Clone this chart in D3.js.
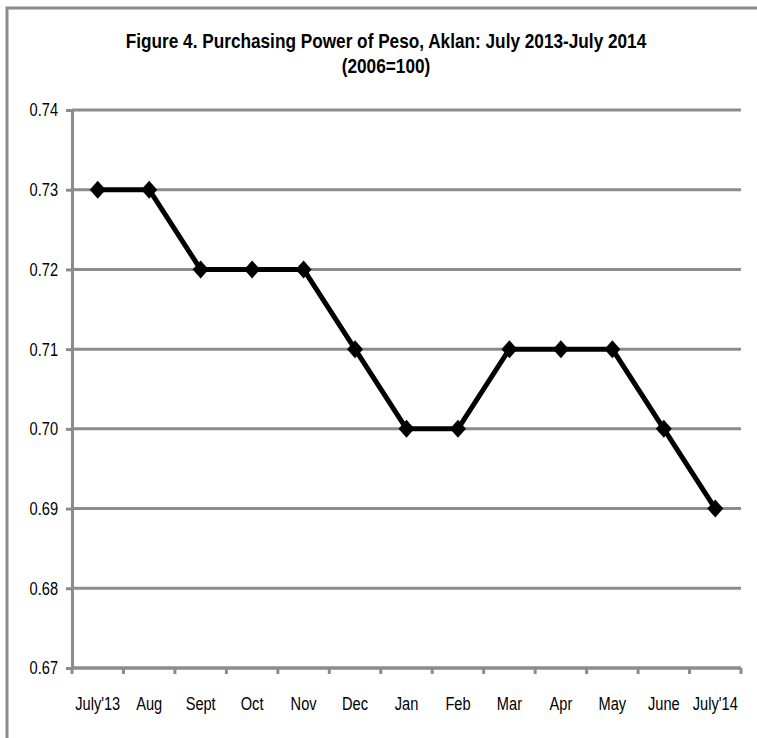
<!DOCTYPE html>
<html>
<head>
<meta charset="utf-8">
<script src="https://cdn.jsdelivr.net/npm/d3@7"></script>
<style>
  body { margin: 0; background: #fff; }
  text { font-family: "Liberation Sans", Arial, sans-serif; fill: #000; }
</style>
</head>
<body>
<div id="chart"></div>
<script>
// data
var months = ["July'13", "Aug", "Sept", "Oct", "Nov", "Dec", "Jan", "Feb", "Mar", "Apr", "May", "June", "July'14"];
var peso_values = [0.73, 0.73, 0.72, 0.72, 0.72, 0.71, 0.70, 0.70, 0.71, 0.71, 0.71, 0.70, 0.69];
var y_ticks = [0.67, 0.68, 0.69, 0.70, 0.71, 0.72, 0.73, 0.74];

var view_width = 757, view_height = 738;
var margin = {top: 110, bottom: 70, left: 72, right: 16};
var width = view_width - margin.left - margin.right;
var height = view_height - margin.top - margin.bottom;
var narrow = 0.79;   // no Arial Narrow here, squeeze the glyphs instead

var svg = d3.select('#chart')
    .append('svg')
        .attr('width', view_width)
        .attr('height', view_height);

// outer frame (only top and left edges show)
svg.append('path')
    .attr('d', 'M7,' + view_height + 'V8H' + view_width)
    .attr('fill', 'none')
    .attr('stroke', '#8c8c8c')
    .attr('stroke-width', 3);

svg.append('text')
    .attr('transform', 'translate(386,48) scale(0.82,1)')
    .attr('text-anchor', 'middle')
    .style('font-size', '21px').style('font-weight', 'bold')
    .text('Figure 4. Purchasing Power of Peso, Aklan: July 2013-July 2014');
svg.append('text')
    .attr('transform', 'translate(386,73) scale(0.82,1)')
    .attr('text-anchor', 'middle')
    .style('font-size', '21px').style('font-weight', 'bold')
    .text('(2006=100)');

var g = svg.append('g')
    .attr('transform', 'translate(' + margin.left + ',' + margin.top + ')');

var x_scale = d3.scaleBand().domain(months).range([0, width]);
var y_scale = d3.scaleLinear().domain([0.67, 0.74]).range([height, 0]);

// gridlines
g.selectAll('.grid')
    .data(y_ticks)
    .enter().append('line')
        .attr('class', 'grid')
        .attr('x1', 0).attr('x2', width)
        .attr('y1', function(d) { return y_scale(d); })
        .attr('y2', function(d) { return y_scale(d); })
        .attr('stroke', '#8c8c8c')
        .attr('stroke-width', 3);

var y_axis = d3.axisLeft(y_scale).tickValues(y_ticks).tickFormat(d3.format('.2f')).tickSize(6).tickPadding(8);
var gy = g.append('g').attr('class', 'y axis').call(y_axis);
gy.select('.domain').attr('stroke', '#8c8c8c').attr('stroke-width', 3);
gy.selectAll('.tick line').attr('stroke', '#8c8c8c').attr('stroke-width', 3);
gy.selectAll('.tick text')
    .style('font-size', '18.5px')
    .attr('x', -14 / narrow)
    .attr('transform', 'scale(' + narrow + ',1)');

// x axis: ticks at band boundaries, labels at centres
var gx = g.append('g').attr('transform', 'translate(0,' + height + ')');
gx.append('line')
    .attr('x1', 0).attr('x2', width)
    .attr('stroke', '#8c8c8c').attr('stroke-width', 3);
var bounds = months.map(function(m) { return x_scale(m); }).concat([width]);
gx.selectAll('.xtick')
    .data(bounds)
    .enter().append('line')
        .attr('x1', function(d) { return d; }).attr('x2', function(d) { return d; })
        .attr('y1', 0).attr('y2', 6)
        .attr('stroke', '#8c8c8c').attr('stroke-width', 3);
gx.selectAll('.xlabel')
    .data(months)
    .enter().append('text')
        .attr('transform', function(d) {
            return 'translate(' + (x_scale(d) + x_scale.bandwidth() / 2) + ',42) scale(' + narrow + ',1)';
        })
        .attr('text-anchor', 'middle')
        .style('font-size', '18.5px')
        .text(function(d) { return d; });

var data = months.map(function(m, i) { return {month: m, value: peso_values[i]}; });

var valueline = d3.line()
    .x(function(d) { return x_scale(d.month) + x_scale.bandwidth() / 2; })
    .y(function(d) { return y_scale(d.value); });

g.append('path')
    .datum(data)
    .attr('fill', 'none')
    .attr('stroke', '#000')
    .attr('stroke-width', 5)
    .attr('stroke-linejoin', 'round')
    .attr('d', valueline);

g.selectAll('.marker')
    .data(data)
    .enter().append('path')
        .attr('class', 'marker')
        .attr('transform', function(d) {
            return 'translate(' + (x_scale(d.month) + x_scale.bandwidth() / 2) + ',' + y_scale(d.value) + ')';
        })
        .attr('d', 'M0,-9L8,0L0,9L-8,0Z')
        .attr('fill', '#000');
</script>
</body>
</html>
